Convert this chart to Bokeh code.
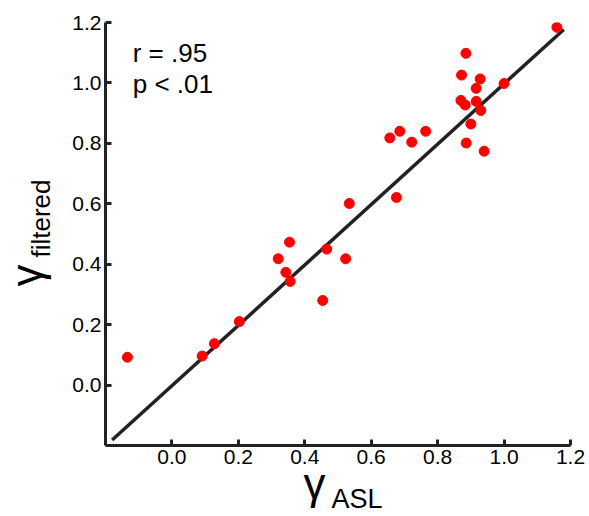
import math
from bokeh.plotting import figure
from bokeh.models import Range1d, FixedTicker, PrintfTickFormatter, Label, Title, ColumnDataSource
from bokeh.embed import file_html
from bokeh.resources import INLINE

# ---- data ----
gamma_asl = [1.159, 0.885, 0.872, 0.928, 1.000, 0.916, 0.870, 0.883, 0.916, 0.930,
             0.900, 0.886, 0.940, 0.656, 0.686, 0.722, 0.764, 0.676, 0.534, 0.354,
             0.466, 0.523, 0.454, 0.320, 0.343, 0.356, 0.203, 0.128, 0.091, -0.134]
gamma_filtered = [1.184, 1.098, 1.026, 1.013, 0.998, 0.982, 0.942, 0.927, 0.939, 0.909,
                  0.864, 0.801, 0.774, 0.818, 0.840, 0.804, 0.840, 0.621, 0.601, 0.473,
                  0.450, 0.418, 0.280, 0.418, 0.373, 0.343, 0.210, 0.137, 0.096, 0.092]
fit_x = [-0.18, 1.18]
fit_y = [-0.182, 1.177]
tick_values = [0.0, 0.2, 0.4, 0.6, 0.8, 1.0, 1.2]
stats_lines = ["r = .95", "p < .01"]

FONT = "Liberation Sans"
DARK = "#222222"

p = figure(width=588, height=515, output_backend="svg", toolbar_location=None,
           x_range=Range1d(-0.2, 1.2), y_range=Range1d(-0.2, 1.2),
           min_border_left=105, min_border_right=18, min_border_top=22, min_border_bottom=70)
p.outline_line_color = None
p.grid.visible = False
p.background_fill_color = "white"
p.border_fill_color = "white"

for ax in (p.xaxis[0], p.yaxis[0]):
    ax.ticker = FixedTicker(ticks=tick_values)
    ax.formatter = PrintfTickFormatter(format="%.1f")
    ax.axis_line_width = 3
    ax.axis_line_color = DARK
    ax.major_tick_line_width = 3
    ax.major_tick_line_color = DARK
    ax.major_tick_in = 6
    ax.major_tick_out = 0
    ax.minor_tick_line_color = None
    ax.major_label_text_font = FONT
    ax.major_label_text_font_size = "21px"
    ax.major_label_text_color = "black"
    ax.major_label_standoff = 4

p.line(fit_x, fit_y, line_width=3.5, line_color=DARK)

src = ColumnDataSource(dict(x=gamma_asl, y=gamma_filtered))
p.scatter("x", "y", source=src, size=10, fill_color="#ff0000", line_color="#ff0000")

# stats text
p.add_layout(Label(x=-0.118, y=1.099, text=stats_lines[0], text_font=FONT,
                   text_font_size="26px", text_color="black", text_baseline="alphabetic"))
p.add_layout(Label(x=-0.118, y=0.996, text=stats_lines[1], text_font=FONT,
                   text_font_size="26px", text_color="black", text_baseline="alphabetic"))

# x axis label: gamma with subscript ASL (titles in the below panel)
p.add_layout(Title(text="\u03b3", text_font=FONT, text_font_size="44px", text_font_style="normal",
                   text_color="black", align="left", offset=198, standoff=-16,
                   vertical_align="top"), "below")
p.add_layout(Title(text="ASL", text_font=FONT, text_font_size="27px", text_font_style="normal",
                   text_color="black", align="left", offset=226, standoff=-36,
                   vertical_align="top"), "below")

# y axis label: gamma with subscript filtered (titles in the left panel)
p.add_layout(Title(text="filtered", text_font=FONT, text_font_size="26px", text_font_style="normal",
                   text_color="black", align="left", offset=188, standoff=24,
                   vertical_align="top"), "left")
p.add_layout(Title(text="\u03b3", text_font=FONT, text_font_size="44px", text_font_style="normal",
                   text_color="black", align="left", offset=159, standoff=-74,
                   vertical_align="bottom"), "left")

open("out.html", "w").write(file_html(p, INLINE))
